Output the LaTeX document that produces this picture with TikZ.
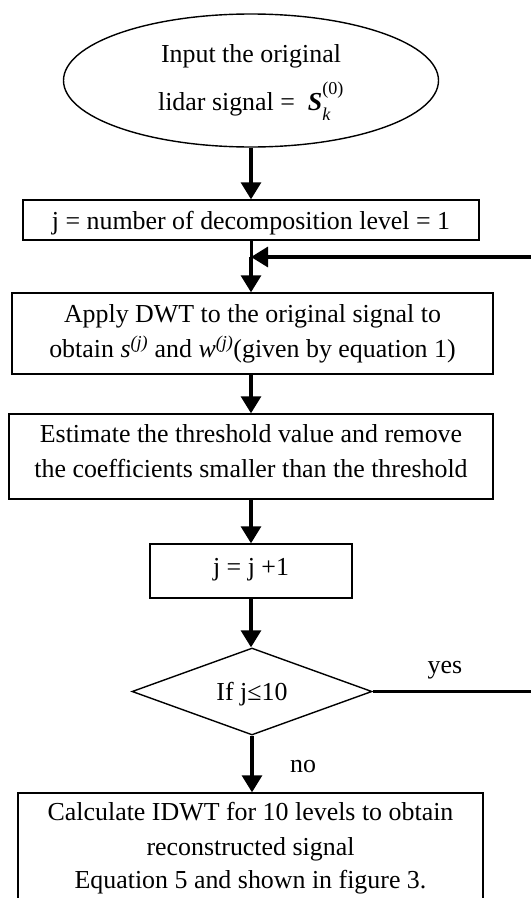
\documentclass[tikz,border=0pt]{standalone}
\usepackage{amsmath}
\usepackage{fontspec}
\setmainfont{Liberation Serif}
\usetikzlibrary{shapes.geometric,arrows.meta}

\tikzset{
  txt/.style={font=\fontsize{26}{35}\selectfont, align=center, inner sep=0pt},
  procbox/.style={txt, draw, line width=1.4bp},
  startshape/.style={txt, draw, ellipse, line width=1.4bp},
  decision/.style={txt, draw, diamond, line width=1.4bp},
  flow/.style={line width=3.2bp, -{Triangle[length=17bp,width=20bp]}},
  plainflow/.style={line width=3bp},
  lbl/.style={font=\fontsize{26}{35}\selectfont, inner sep=0pt, anchor=base}
}

\begin{document}
\begin{tikzpicture}[x=1bp, y=-1bp]
\useasboundingbox (0,0) rectangle (531,898);
\clip (0,0) rectangle (531,898);

% start
\node[startshape, minimum width=375bp, minimum height=133bp] (start) at (251,80.5) {};
\node[txt, anchor=base] (startA) at (251,62) {Input the original};
\node[txt, anchor=base] (startB) at (251,110)
  {lidar signal = \ $\text{\bfseries\itshape S}^{\text{\raisebox{5bp}{(0)}}}_{\text{\itshape\raisebox{-4bp}{k}}}$};

% process steps
\node[procbox, minimum width=456bp, minimum height=40bp] (init) at (251,220) {};
\node[txt, anchor=base] at (251,229) {j = number of decomposition level = 1};

\node[procbox, minimum width=481bp, minimum height=81bp] (dwt) at (252.5,333.5) {};
\node[txt, anchor=base] at (252.5,322) {Apply DWT to the original signal to};
\node[txt, anchor=base] at (252.5,357)
  {obtain \textit{s}\textsuperscript{\textit{(j)}} and \textit{w}\textsuperscript{\textit{(j)}}(given by equation 1)};

\node[procbox, minimum width=484bp, minimum height=85bp] (thr) at (251,456.5) {};
\node[txt, anchor=base] at (251,442) {Estimate the threshold value and remove};
\node[txt, anchor=base] at (251,477) {the coefficients smaller than the threshold};

\node[procbox, minimum width=202bp, minimum height=54bp] (inc) at (251,571) {};
\node[txt, anchor=base] at (251,575) {j = j +1};

\node[decision, minimum width=240bp, minimum height=87bp] (test) at (252,691.5) {};
\node[txt, anchor=base] at (252,700) {If j≤10};

\node[procbox, minimum width=465bp, minimum height=120bp] (idwt) at (250.5,853) {};
\node[txt, anchor=base] at (250.5,820) {Calculate IDWT for 10 levels to obtain};
\node[txt, anchor=base] at (250.5,855) {reconstructed signal};
\node[txt, anchor=base] at (250.5,888) {Equation 5 and shown in figure 3.};

% connectors
\coordinate (join) at (251,257);
\coordinate (loopR) at (545,691.5);

\draw[flow] (start.south) -- (init.north);
\draw[plainflow] (init.south) -- (join);
\draw[flow] (join) -- (dwt.north -| join);
\draw[flow] (thr.north |- dwt.south) -- (thr.north);
\draw[flow] (thr.south) -- (inc.north);
\draw[flow] (inc.south) -- (inc.south |- test.north);
\draw[flow] (test.south) -- (test.south |- idwt.north);
\draw[flow] (test.east) -- (loopR) |- (join);

% branch labels
\node[lbl] (yes) at (445,673) {yes};
\node[lbl] (no) at (303,772) {no};
\end{tikzpicture}
\end{document}
